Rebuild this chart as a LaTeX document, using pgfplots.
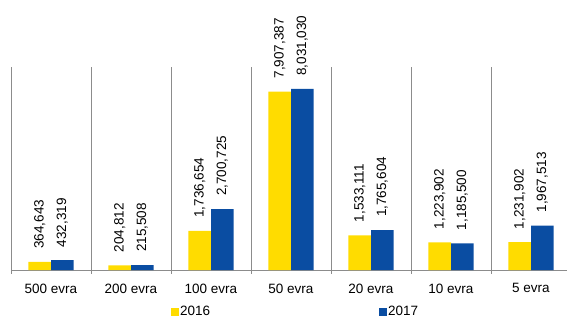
\documentclass[border=0pt]{standalone}
\usepackage{pgfplots}
\usepackage{pgfplotstable}
\pgfplotsset{compat=1.18}
\usepackage{fontspec}
\setmainfont{Liberation Sans}
\definecolor{yel}{HTML}{FFDC00}
\definecolor{blu}{HTML}{0A4DA2}
\definecolor{gridc}{HTML}{8C8C8C}
\pgfplotstableread{
x a b la lb
0 364643 432319 364,643 432,319
1 204812 215508 204,812 215,508
2 1736654 2700725 1,736,654 2,700,725
3 7907387 8031030 7,907,387 8,031,030
4 1533111 1765604 1,533,111 1,765,604
5 1223902 1185500 1,223,902 1,185,500
6 1231902 1967513 1,231,902 1,967,513
}\data
\begin{document}
\begin{tikzpicture}
\begin{axis}[
 at={(11bp,50bp)}, anchor=south west,
 scale only axis, width=556bp, height=203bp,
 xmin=-0.5, xmax=6.45, ymin=0, ymax=9000000,
 clip=false,
 ybar=0pt, bar width=22.7bp,
 axis y line=none, axis x line*=bottom,
 x axis line style={gridc, line width=0.8bp, -},
 xtick={0,...,6},
 xticklabels={500 evra,200 evra,100 evra,50 evra,20 evra,10 evra,5 evra},
 major tick length=0pt,
 minor xtick={-0.5,0.5,1.5,2.5,3.5,4.5,5.5},
 minor tick length=4bp,
 xminorgrids=true, minor grid style={gridc, line width=0.8bp},
 tick align=outside,
 minor tick style={gridc, line width=0.8bp},
 xticklabel style={font=\fontsize{13.5bp}{16bp}\selectfont, inner sep=0pt, yshift=-13.5bp},
 point meta=explicit symbolic,
 nodes near coords={\pgfplotspointmeta},
 every node near coord/.append style={rotate=90, anchor=west, inner xsep=13bp, inner ysep=0pt,
   font=\fontsize{13.5bp}{16bp}\selectfont, text=black},
 legend columns=2,
 legend style={at={(axis description cs:0.511,-0.207)}, anchor=center, draw=none, fill=none,
   font=\fontsize{13.5bp}{16bp}\selectfont, inner sep=0pt,
   nodes={inner xsep=1.5bp, inner ysep=0pt},
   /tikz/every even column/.append style={column sep=167bp}},
 legend image code/.code={\fill[#1] (0bp,-4bp) rectangle (8bp,4bp);},
]
\addplot[fill=yel, draw=none] table[x=x, y=a, meta=la]{\data};
\addlegendentry{2016}
\addplot[fill=blu, draw=none] table[x=x, y=b, meta=lb]{\data};
\addlegendentry{2017}
\end{axis}
\pgfresetboundingbox
\path (0,0) rectangle (567bp,320bp);
\end{tikzpicture}
\end{document}
